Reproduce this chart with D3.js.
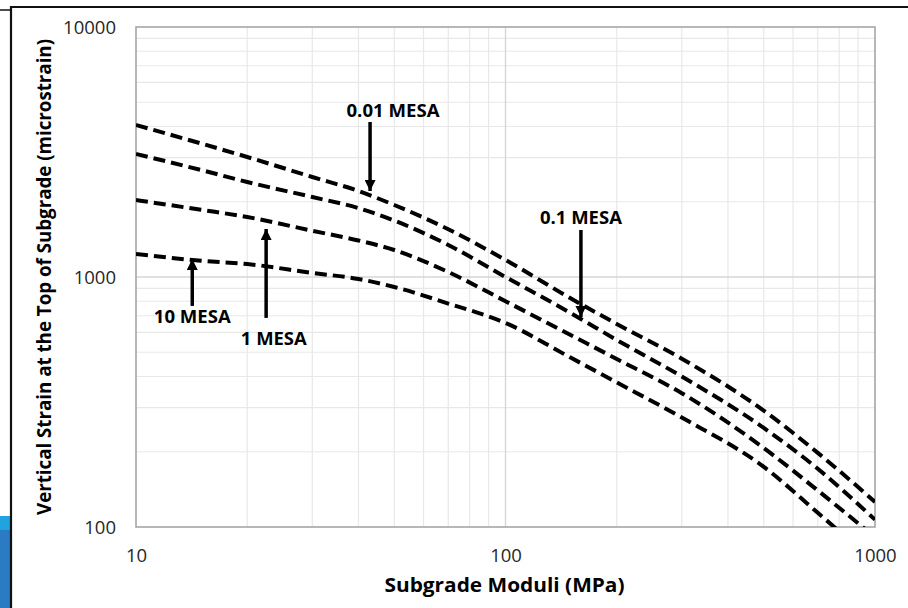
<!DOCTYPE html>
<html>
<head>
<meta charset="utf-8">
<script src="https://cdn.jsdelivr.net/npm/d3@7"></script>
<style>
  html, body { margin: 0; padding: 0; background: #ffffff; }
  svg { display: block; font-family: "Open Sans", "Noto Sans", sans-serif; }
</style>
</head>
<body>
<svg id="chart" width="908" height="608"></svg>
<script>
// Subgrade modulus (MPa) at which each curve is sampled
const moduli = [10, 15, 20, 30, 40, 50, 70, 100, 150, 200, 300, 500, 700, 1000];

// Allowable vertical strain at top of subgrade (microstrain) per traffic level
const strain001 = [4055, 3420, 3020, 2512, 2208, 1941, 1553, 1170, 822, 649, 471, 292, 198, 126];
const strain01  = [3105, 2679, 2399, 2089, 1886, 1681, 1343, 1000, 718, 560, 400, 249, 171, 107];
const strain1   = [2032, 1857, 1738, 1531, 1400, 1282, 1047, 800, 586, 470, 343, 207, 140, 91];
const strain10  = [1236, 1161, 1127, 1038, 982, 912, 783, 655, 476, 379, 274, 174, 114, 72];

const seriesList = [strain001, strain01, strain1, strain10];

// Axis tick labels
const xTickValues = [10, 100, 1000];
const yTickValues = [100, 1000, 10000];

// Traffic annotations (label text, arrow modulus, arrow tip / tail strain, label anchor)
const annotationText    = ["0.01 MESA", "0.1 MESA", "1 MESA", "10 MESA"];
const annotationModulus = [43, 160, 22.5, 14.2];
const annotationTip     = [2208, 692, 1556, 1180];
const annotationTail    = [4169, 1542, 686, 766];
const annotationLabelX  = [49.6, 160, 23.6, 14.2];
const annotationLabelY  = [4613, 1722, 570, 692];
const annotationWidth   = [93, 82, 66, 77];

const svg = d3.select("#chart");

// Page frame
svg.append("rect").attr("x", 0).attr("y", 516).attr("width", 11).attr("height", 14).attr("fill", "#20a4df");
svg.append("rect").attr("x", 0).attr("y", 530).attr("width", 11).attr("height", 78).attr("fill", "#2a7bc3");
svg.append("line").attr("x1", 11).attr("x2", 908).attr("y1", 7).attr("y2", 7)
  .attr("stroke", "#111").attr("stroke-width", 2.2);
svg.append("line").attr("x1", 11).attr("x2", 11).attr("y1", 6).attr("y2", 608)
  .attr("stroke", "#111").attr("stroke-width", 2.2);
svg.append("line").attr("x1", 0).attr("x2", 11).attr("y1", 10).attr("y2", 10)
  .attr("stroke", "#111").attr("stroke-width", 1.5);

const plot = { left: 136, right: 875, top: 27, bottom: 527 };

const x = d3.scaleLog().domain([10, 1000]).range([plot.left, plot.right]);
const y = d3.scaleLog().domain([100, 10000]).range([plot.bottom, plot.top]);

// Gridlines: minor first, then decades
const minorX = [], minorY = [];
[10, 100].forEach(d => { for (let k = 2; k <= 9; k++) minorX.push(d * k); });
[100, 1000].forEach(d => { for (let k = 2; k <= 9; k++) minorY.push(d * k); });

const grid = svg.append("g");
grid.selectAll(".mx").data(minorX).join("line")
  .attr("x1", d => x(d)).attr("x2", d => x(d))
  .attr("y1", plot.top).attr("y2", plot.bottom)
  .attr("stroke", "#e8e8e8").attr("stroke-width", 1.2);
grid.selectAll(".my").data(minorY).join("line")
  .attr("y1", d => y(d)).attr("y2", d => y(d))
  .attr("x1", plot.left).attr("x2", plot.right)
  .attr("stroke", "#e8e8e8").attr("stroke-width", 1.2);
grid.selectAll(".Mx").data([100]).join("line")
  .attr("x1", d => x(d)).attr("x2", d => x(d))
  .attr("y1", plot.top).attr("y2", plot.bottom)
  .attr("stroke", "#d6d6d6").attr("stroke-width", 1.4);
grid.selectAll(".My").data([1000]).join("line")
  .attr("y1", d => y(d)).attr("y2", d => y(d))
  .attr("x1", plot.left).attr("x2", plot.right)
  .attr("stroke", "#d6d6d6").attr("stroke-width", 1.4);

// Axes via d3 axis generators; the plot frame is drawn separately
const xAxis = d3.axisBottom(x).tickValues(xTickValues).tickFormat(d3.format("d")).tickSize(0).tickPadding(20);
const yAxis = d3.axisLeft(y).tickValues(yTickValues).tickFormat(d3.format("d")).tickSize(0).tickPadding(20);

const gx = svg.append("g").attr("transform", `translate(0,${plot.bottom})`).call(xAxis);
const gy = svg.append("g").attr("transform", `translate(${plot.left},0)`).call(yAxis);
[gx, gy].forEach(g => {
  g.select(".domain").remove();
  g.selectAll("text").attr("font-size", 18.5).attr("fill", "#262626")
    .attr("font-family", "'Open Sans', sans-serif");
});
gx.selectAll("text").attr("dy", "0.36em").attr("y", 28);
gy.selectAll("text").attr("dy", "0.36em");

svg.append("rect")
  .attr("x", plot.left).attr("y", plot.top)
  .attr("width", plot.right - plot.left).attr("height", plot.bottom - plot.top)
  .attr("fill", "none").attr("stroke", "#a6a6a6").attr("stroke-width", 1.6);

// Curves, clipped to the plot area
svg.append("clipPath").attr("id", "plotClip").append("rect")
  .attr("x", plot.left).attr("y", plot.top)
  .attr("width", plot.right - plot.left).attr("height", plot.bottom - plot.top);

const line = d3.line()
  .x((d, i) => x(moduli[i]))
  .y(d => y(d))
  .curve(d3.curveMonotoneX);

svg.append("g").attr("clip-path", "url(#plotClip)")
  .selectAll("path").data(seriesList).join("path")
  .attr("d", d => line(d))
  .attr("fill", "none")
  .attr("stroke", "#000")
  .attr("stroke-width", 4)
  .attr("stroke-dasharray", "12,6");

// Arrow annotations
const defs = svg.append("defs");
defs.append("marker").attr("id", "arrowHead")
  .attr("viewBox", "0 0 10 10").attr("refX", 10).attr("refY", 5)
  .attr("markerUnits", "userSpaceOnUse")
  .attr("markerWidth", 12).attr("markerHeight", 11).attr("orient", "auto")
  .append("path").attr("d", "M0,0 L10,5 L0,10 Z").attr("fill", "#000");

const ann = svg.append("g");
annotationText.forEach((t, i) => {
  ann.append("line")
    .attr("x1", x(annotationModulus[i])).attr("x2", x(annotationModulus[i]))
    .attr("y1", y(annotationTail[i])).attr("y2", y(annotationTip[i]))
    .attr("stroke", "#000").attr("stroke-width", 3.5)
    .attr("marker-end", "url(#arrowHead)");
  ann.append("text")
    .attr("x", x(annotationLabelX[i])).attr("y", y(annotationLabelY[i]))
    .attr("text-anchor", "middle").attr("dy", "0.36em")
    .attr("font-size", 18).attr("font-weight", "bold").attr("fill", "#000")
    .attr("textLength", annotationWidth[i]).attr("lengthAdjust", "spacingAndGlyphs")
    .text(t);
});

// Axis titles
svg.append("text")
  .attr("x", (plot.left + plot.right) / 2 - 1).attr("y", 585)
  .attr("text-anchor", "middle").attr("dy", "0.36em")
  .attr("font-size", 19).attr("font-weight", "bold").attr("fill", "#000")
  .attr("textLength", 240).attr("lengthAdjust", "spacingAndGlyphs")
  .text("Subgrade Moduli (MPa)");

svg.append("text")
  .attr("transform", `translate(44,${(plot.top + plot.bottom) / 2}) rotate(-90)`)
  .attr("text-anchor", "middle").attr("dy", "0.36em")
  .attr("font-size", 19).attr("font-weight", "bold").attr("fill", "#000")
  .attr("textLength", 476).attr("lengthAdjust", "spacingAndGlyphs")
  .text("Vertical Strain at the Top of Subgrade (microstrain)");
</script>
</body>
</html>
